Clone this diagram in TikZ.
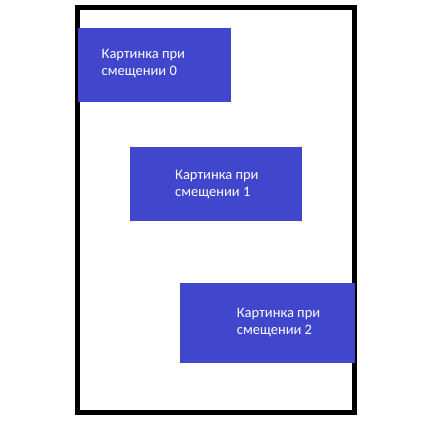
\documentclass[tikz,border=0pt]{standalone}
\usepackage{fontspec}
\setmainfont{Carlito}
\definecolor{boxblue}{HTML}{4047CC}
\begin{document}
\begin{tikzpicture}[x=1pt,y=-1pt,
  box/.style={fill=boxblue,draw=none,inner sep=0pt,anchor=north west},
  lbl/.style={text=white,align=left,inner sep=0pt,anchor=base west,font=\fontsize{14.5}{17.5}\selectfont}]
\useasboundingbox (0,0) rectangle (435,424);
\draw[line width=5pt] (77.5,7.5) rectangle (354.2,412.5);
\node[box,minimum width=153pt,minimum height=73.7pt] (b0) at (78,28) {};
\node[box,minimum width=171.7pt,minimum height=74pt] (b1) at (130,146.7) {};
\node[box,minimum width=175pt,minimum height=80pt] (b2) at (180,282.7) {};
\node[lbl] (t0) at (101.5,75.5) {Картинка при\\смещении 0};
\node[lbl] (t1) at (175,196.5) {Картинка при\\смещении 1};
\node[lbl] (t2) at (236.7,334.5) {Картинка при\\смещении 2};
\end{tikzpicture}
\end{document}
